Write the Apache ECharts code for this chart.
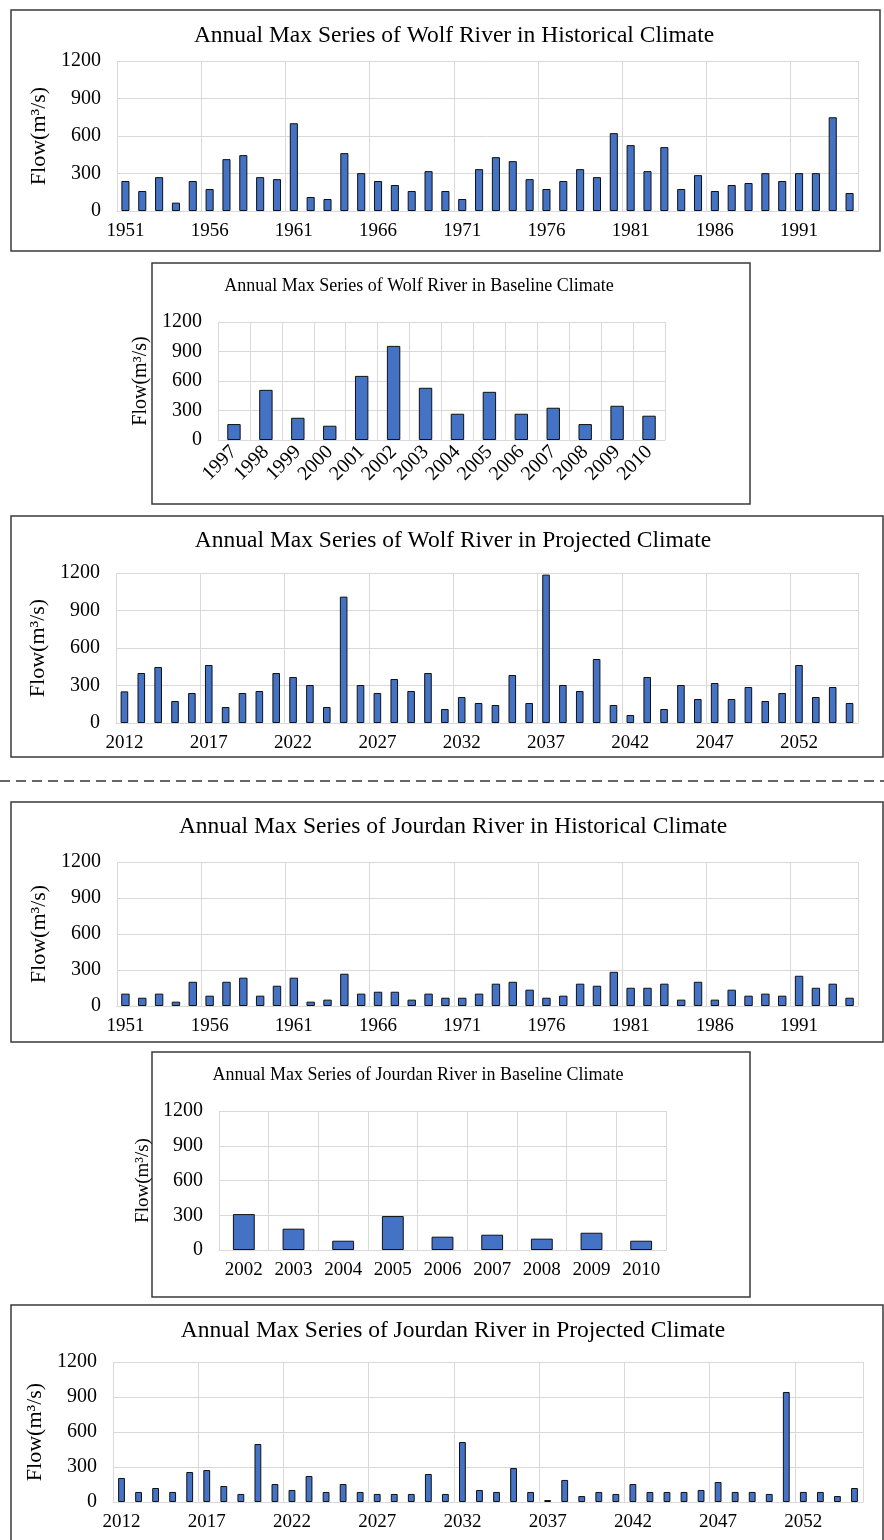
<!DOCTYPE html>
<html>
<head>
<meta charset="utf-8">
<script src="https://cdn.jsdelivr.net/npm/echarts@6/dist/echarts.min.js"></script>
<style>
  html, body { margin: 0; padding: 0; background: #fff; }
  #main { width: 884px; height: 1540px; }
</style>
</head>
<body>
<div id="main"></div>
<script>
// categories
var histYears = ['1951','1952','1953','1954','1955','1956','1957','1958','1959','1960',
  '1961','1962','1963','1964','1965','1966','1967','1968','1969','1970',
  '1971','1972','1973','1974','1975','1976','1977','1978','1979','1980',
  '1981','1982','1983','1984','1985','1986','1987','1988','1989','1990',
  '1991','1992','1993','1994'];
var wolfBaseYears = ['1997','1998','1999','2000','2001','2002','2003','2004','2005','2006','2007','2008','2009','2010'];
var jourBaseYears = ['2002','2003','2004','2005','2006','2007','2008','2009','2010'];
var projYears = ['2012','2013','2014','2015','2016','2017','2018','2019','2020','2021',
  '2022','2023','2024','2025','2026','2027','2028','2029','2030','2031',
  '2032','2033','2034','2035','2036','2037','2038','2039','2040','2041',
  '2042','2043','2044','2045','2046','2047','2048','2049','2050','2051',
  '2052','2053','2054','2055'];

// annual max flow, m3/s
var wolfHist = [240,160,271,67,240,176,415,447,271,255,
  702,112,96,463,303,240,208,160,319,160,
  96,335,431,399,255,176,240,335,271,623,
  527,319,511,176,287,160,208,224,303,240,
  303,303,750,144];
var wolfBase = [162,510,226,145,652,957,531,267,490,267,328,162,348,247];
var wolfProj = [253,400,448,176,240,464,128,240,256,400,
  368,304,128,1011,304,240,352,256,400,112,
  208,160,144,384,160,1187,304,256,512,144,
  64,368,112,304,192,320,192,288,176,240,
  464,208,288,160];
var jourHist = [103,69,103,36,202,86,202,236,86,169,
  236,36,53,269,103,119,119,53,103,69,
  69,103,186,202,136,69,86,186,169,285,
  152,152,186,53,202,53,136,86,103,86,
  252,152,186,69];
var jourBase = [310,184,80,293,115,132,98,149,80];
var jourProj = [206,86,120,86,257,274,137,69,497,154,
  103,223,86,154,86,69,69,69,240,69,
  514,103,86,291,86,17,189,51,86,69,
  154,86,86,86,103,171,86,86,69,943,
  86,86,51,120];

var yTicks = [0, 300, 600, 900, 1200];

var FONT = '"Liberation Serif", "Times New Roman", serif';
var GRIDC = '#d9d9d9';

var panels = [
  { title: 'Annual Max Series of Wolf River in Historical Climate', cx: 454, ty: 36, tfs: 23.5,
    cats: histYears, data: wolfHist, left: 117, top: 61, width: 741, height: 150,
    every: 4, rotate: 0, gap: '52%', nameGap: 66, nameFs: 22 },
  { title: 'Annual Max Series of Wolf River in Baseline Climate', cx: 419, ty: 286, tfs: 18,
    cats: wolfBaseYears, data: wolfBase, left: 218, top: 322, width: 447, height: 118,
    every: 0, rotate: 45, gap: '58%', nameGap: 44, nameFs: 20 },
  { title: 'Annual Max Series of Wolf River in Projected Climate', cx: 453, ty: 541, tfs: 23.5,
    cats: projYears, data: wolfProj, left: 116, top: 573, width: 742, height: 150,
    every: 4, rotate: 0, gap: '55%', nameGap: 60, nameFs: 22 },
  { title: 'Annual Max Series of Jourdan River in Historical Climate', cx: 453, ty: 827, tfs: 23.5,
    cats: histYears, data: jourHist, left: 117, top: 862, width: 741, height: 144,
    every: 4, rotate: 0, gap: '50%', nameGap: 60, nameFs: 22 },
  { title: 'Annual Max Series of Jourdan River in Baseline Climate', cx: 418, ty: 1075, tfs: 18,
    cats: jourBaseYears, data: jourBase, left: 219, top: 1111, width: 447, height: 139,
    every: 0, rotate: 0, gap: '56%', nameGap: 45, nameFs: 19 },
  { title: 'Annual Max Series of Jourdan River in Projected Climate', cx: 453, ty: 1331, tfs: 23.5,
    cats: projYears, data: jourProj, left: 113, top: 1362, width: 750, height: 140,
    every: 4, rotate: 0, gap: '60%', nameGap: 58, nameFs: 22 }
];

var titles = [], grids = [], xAxes = [], yAxes = [], series = [];

panels.forEach(function (p, i) {
  titles.push({
    text: p.title,
    left: p.cx,
    top: p.ty - p.tfs * 0.5,
    textAlign: 'center',
    padding: 0,
    textStyle: { fontFamily: FONT, fontSize: p.tfs, fontWeight: 'normal', color: '#000' }
  });
  grids.push({ left: p.left, top: p.top, width: p.width, height: p.height, containLabel: false });
  xAxes.push({
    type: 'category',
    gridIndex: i,
    data: p.cats,
    boundaryGap: true,
    axisLine: { show: true, lineStyle: { color: GRIDC, width: 1 } },
    axisTick: { show: false },
    axisLabel: {
      interval: p.every,
      rotate: p.rotate,
      margin: p.rotate ? 9 : 11,
      fontFamily: FONT,
      fontSize: p.rotate ? 20 : 19,
      color: '#000'
    },
    splitLine: { show: true, interval: p.every, lineStyle: { color: GRIDC, width: 1 } }
  });
  yAxes.push({
    type: 'value',
    gridIndex: i,
    min: yTicks[0],
    max: yTicks[yTicks.length - 1],
    interval: yTicks[1] - yTicks[0],
    name: 'Flow(m³/s)',
    nameLocation: 'middle',
    nameGap: p.nameGap,
    nameTextStyle: { fontFamily: FONT, fontSize: p.nameFs, color: '#000' },
    axisLine: { show: false },
    axisTick: { show: false },
    axisLabel: {
      margin: 16, fontFamily: FONT, fontSize: 20, color: '#000',
      formatter: function (v) { return String(v); }
    },
    splitLine: { show: true, lineStyle: { color: GRIDC, width: 1 } }
  });
  series.push({
    type: 'bar',
    xAxisIndex: i,
    yAxisIndex: i,
    data: p.data,
    barCategoryGap: p.gap,
    itemStyle: { color: '#4472C4', borderColor: '#111', borderWidth: 1 },
    silent: true
  });
});

function box(x1, y1, x2, y2) {
  return {
    type: 'rect',
    shape: { x: x1, y: y1, width: x2 - x1, height: y2 - y1 },
    style: { fill: 'none', stroke: '#3a3a3a', lineWidth: 1.5 },
    silent: true
  };
}

var chart = echarts.init(document.getElementById('main'), null, { renderer: 'canvas' });
chart.setOption({
  backgroundColor: '#fff',
  animation: false,
  title: titles,
  grid: grids,
  xAxis: xAxes,
  yAxis: yAxes,
  series: series,
  graphic: [
    box(11, 10, 880, 251),
    box(152, 263, 750, 504),
    box(11, 516, 883, 757),
    {
      type: 'line',
      shape: { x1: 0, y1: 781, x2: 884, y2: 781 },
      style: { stroke: '#666', lineWidth: 2, lineDash: [10, 6] },
      silent: true
    },
    box(11, 802, 883, 1042),
    box(152, 1052, 750, 1297),
    box(11, 1305, 883, 1560)
  ]
});
</script>
</body>
</html>
